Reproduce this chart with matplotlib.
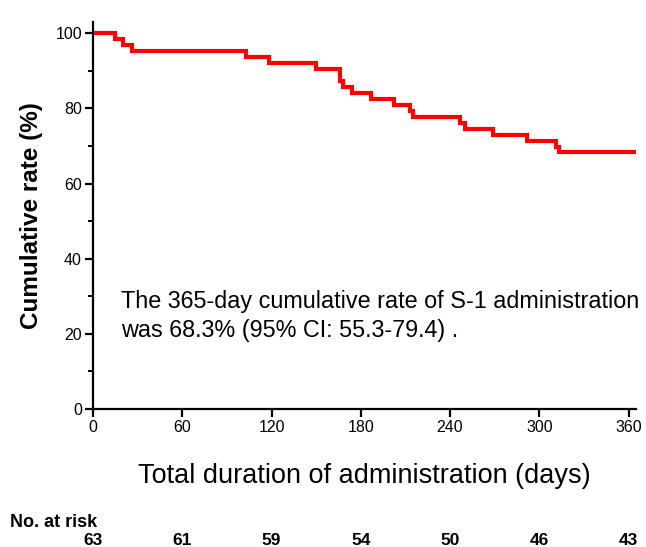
import matplotlib
matplotlib.use('Agg')
import matplotlib.pyplot as plt
from matplotlib.ticker import MultipleLocator
import matplotlib.transforms as mtransforms

# Kaplan-Meier steps (days, cumulative rate %)
days = [0, 15, 20, 26, 103, 118, 150, 166, 168, 174, 187, 202, 213, 215,
        247, 250, 269, 292, 311, 313, 365]
rate = [100, 98.4, 96.8, 95.2, 93.7, 92.1, 90.5, 87.3, 85.7, 84.1, 82.5,
        81.0, 79.4, 77.8, 76.2, 74.6, 73.0, 71.4, 69.8, 68.3, 68.3]

risk_days = [0, 60, 120, 180, 240, 300, 360]
at_risk = [63, 61, 59, 54, 50, 46, 43]

plain = ['Liberation Sans', 'DejaVu Sans']
plt.rcParams['font.family'] = plain

fig = plt.figure(figsize=(6.46, 5.47), dpi=100)
ax = fig.add_axes([0.144, 0.2523, 0.8405, 0.7075])

ax.step(days, rate, where='post', color='#ff0000', lw=3, solid_joinstyle='miter')

ax.set_xlim(0, 365)
ax.set_ylim(0, 103)
ax.set_xticks(risk_days)
ax.yaxis.set_major_locator(MultipleLocator(20))
ax.yaxis.set_minor_locator(MultipleLocator(10))

for s in ['top', 'right']:
    ax.spines[s].set_visible(False)
for s in ['left', 'bottom']:
    ax.spines[s].set_linewidth(1.6)
ax.tick_params(which='major', length=6, width=1.6, labelsize=11.5, pad=2)
ax.tick_params(which='minor', length=3.5, width=1.4)

ax.set_ylabel('Cumulative rate (%)', fontsize=17.5, fontweight='bold', labelpad=9)
ax.set_xlabel('Total duration of administration (days)', fontsize=19.5, labelpad=20)

ax.text(19, 24.8, 'The 365-day cumulative rate of S-1 administration\n'
        'was 68.3% (95% CI: 55.3-79.4) .', fontsize=16.8, linespacing=1.3,
        va='center')

trans = mtransforms.blended_transform_factory(ax.transData, fig.transFigure)
fig.text(0.015, 0.0457, 'No. at risk', fontsize=13, fontweight='bold', va='center')
for d, n in zip(risk_days, at_risk):
    ax.text(d, 0.011, str(n), transform=trans, ha='center', va='center',
            fontsize=12.5, fontweight='bold')

fig.savefig('out.png', dpi=100)
